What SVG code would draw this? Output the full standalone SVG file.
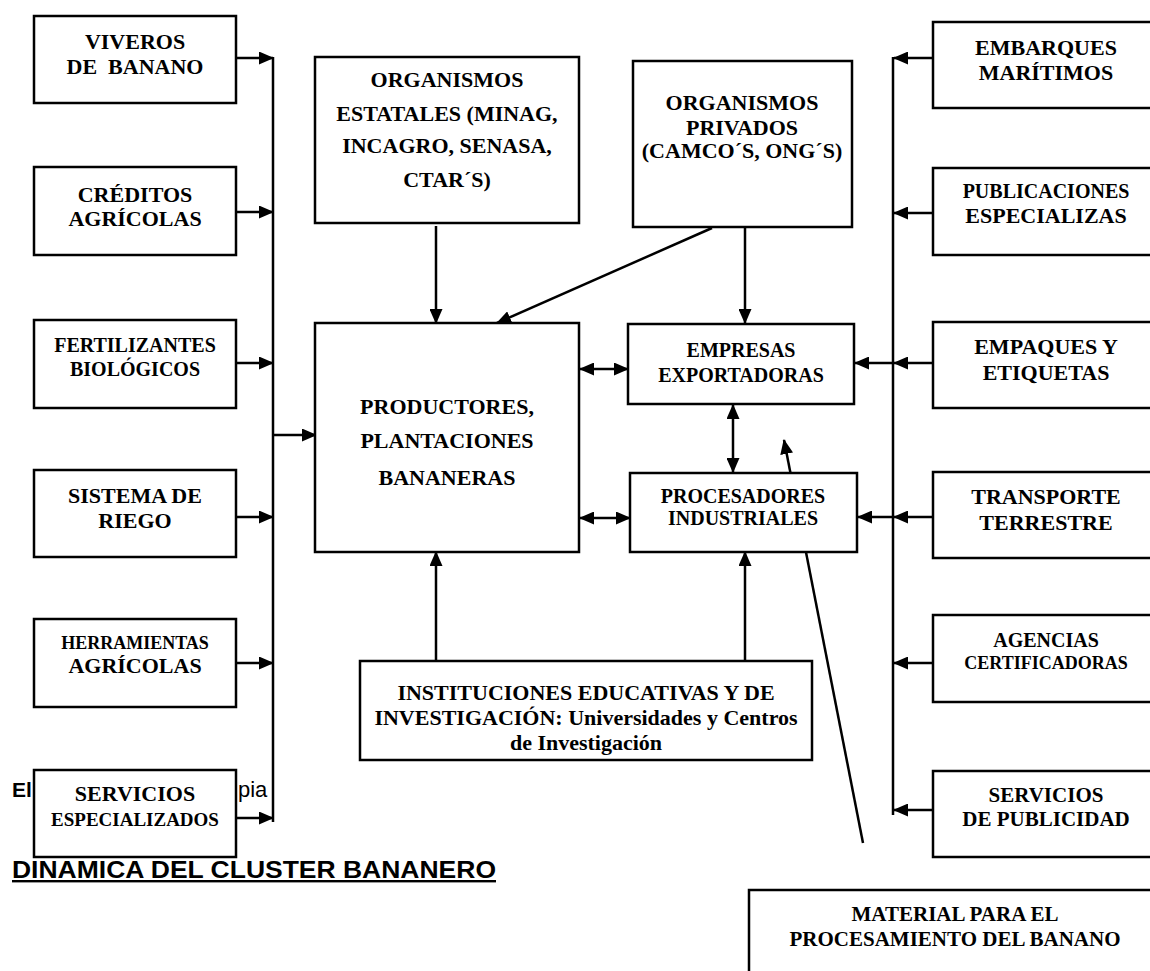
<svg xmlns="http://www.w3.org/2000/svg" width="1150" height="971" viewBox="0 0 1150 971">
  <style>
    .box { fill: #fff; stroke: #000; stroke-width: 2.5; }
    .lbl { font-family: "Liberation Serif", "Times New Roman", serif; font-weight: bold; text-anchor: middle; fill: #000; }
    .f22 { font-size: 22px; }
    .f21 { font-size: 21px; }
    .f20 { font-size: 20px; }
    .f19 { font-size: 19px; }
    .f18 { font-size: 18px; }
    .con { stroke: #000; stroke-width: 2.5; fill: none; }
    .arr { marker-end: url(#head); }
    .dbl { marker-start: url(#head); marker-end: url(#head); }
    .doc { font-family: "Liberation Sans", Arial, sans-serif; fill: #000; }
  </style>
  <defs>
    <marker id="head" viewBox="0 0 15 13" refX="14" refY="6.5" markerWidth="15" markerHeight="13" markerUnits="userSpaceOnUse" orient="auto-start-reverse">
      <path d="M0,0 L15,6.5 L0,13 z" fill="#000"/>
    </marker>
  </defs>
  <rect width="1150" height="971" fill="#fff"/>

  <!-- document text partly covered by the last supplier box -->
  <g id="caption">
    <text class="doc" x="12" y="797" font-size="21" font-weight="bold">El</text>
    <text class="doc" x="238" y="797" font-size="22">pia</text>
    <text class="doc" x="12" y="878" font-size="24" font-weight="bold" text-decoration="underline" textLength="484" lengthAdjust="spacingAndGlyphs">DINAMICA DEL CLUSTER BANANERO</text>
  </g>

  <!-- connectors -->
  <g id="connectors">
    <!-- left supply bus -->
    <line class="con" x1="273" y1="57" x2="273" y2="822"/>
    <line class="con arr" x1="236" y1="58" x2="273" y2="58"/>
    <line class="con arr" x1="236" y1="212" x2="273" y2="212"/>
    <line class="con arr" x1="236" y1="363" x2="273" y2="363"/>
    <line class="con arr" x1="236" y1="517" x2="273" y2="517"/>
    <line class="con arr" x1="236" y1="663" x2="273" y2="663"/>
    <line class="con arr" x1="236" y1="818" x2="273" y2="818"/>
    <line class="con arr" x1="273" y1="435" x2="316" y2="435"/>

    <!-- right supply bus -->
    <line class="con" x1="893" y1="57" x2="893" y2="815"/>
    <line class="con arr" x1="933" y1="58" x2="894" y2="58"/>
    <line class="con arr" x1="933" y1="213" x2="894" y2="213"/>
    <line class="con arr" x1="933" y1="363" x2="894" y2="363"/>
    <line class="con arr" x1="933" y1="517" x2="894" y2="517"/>
    <line class="con arr" x1="933" y1="663" x2="894" y2="663"/>
    <line class="con arr" x1="933" y1="810" x2="894" y2="810"/>
    <line class="con arr" x1="893" y1="363" x2="855" y2="363"/>
    <line class="con arr" x1="893" y1="517" x2="858" y2="517"/>

    <!-- institutions feeding producers and exporters -->
    <line class="con arr" x1="436" y1="226" x2="436" y2="323"/>
    <line class="con arr" x1="712" y1="228" x2="497" y2="323"/>
    <line class="con arr" x1="745" y1="228" x2="745" y2="323"/>

    <!-- links between core actors -->
    <line class="con dbl" x1="580" y1="369" x2="628" y2="369"/>
    <line class="con dbl" x1="580" y1="518" x2="630" y2="518"/>
    <line class="con dbl" x1="733" y1="405" x2="733" y2="472"/>

    <!-- education and research -->
    <line class="con arr" x1="436" y1="661" x2="436" y2="552"/>
    <line class="con arr" x1="745" y1="661" x2="745" y2="552"/>

    <!-- processing material (runs beneath the processors box) -->
    <line class="con arr" x1="863" y1="843" x2="784" y2="440"/>
  </g>

  <!-- left column -->
  <g id="viveros">
    <rect class="box" x="34" y="16" width="202" height="87"/>
    <text class="lbl f22" x="135" y="49">VIVEROS</text>
    <text class="lbl f22" x="135" y="74" xml:space="preserve">DE  BANANO</text>
  </g>
  <g id="creditos">
    <rect class="box" x="34" y="167" width="202" height="88"/>
    <text class="lbl f22" x="135" y="202">CRÉDITOS</text>
    <text class="lbl f22" x="135" y="226">AGRÍCOLAS</text>
  </g>
  <g id="fertilizantes">
    <rect class="box" x="34" y="320" width="202" height="88"/>
    <text class="lbl f20" x="135" y="352">FERTILIZANTES</text>
    <text class="lbl f20" x="135" y="376">BIOLÓGICOS</text>
  </g>
  <g id="riego">
    <rect class="box" x="34" y="470" width="202" height="87"/>
    <text class="lbl f22" x="135" y="503">SISTEMA DE</text>
    <text class="lbl f22" x="135" y="528">RIEGO</text>
  </g>
  <g id="herramientas">
    <rect class="box" x="34" y="619" width="202" height="88"/>
    <text class="lbl f18" x="135" y="649">HERRAMIENTAS</text>
    <text class="lbl f22" x="135" y="673">AGRÍCOLAS</text>
  </g>
  <g id="servicios-especializados">
    <rect class="box" x="34" y="770" width="202" height="87"/>
    <text class="lbl f22" x="135" y="801">SERVICIOS</text>
    <text class="lbl f19" x="135" y="826">ESPECIALIZADOS</text>
  </g>

  <!-- public and private organisations -->
  <g id="estatales">
    <rect class="box" x="315" y="57" width="264" height="166"/>
    <text class="lbl f22" x="447" y="87">ORGANISMOS</text>
    <text class="lbl f22" x="447" y="121">ESTATALES (MINAG,</text>
    <text class="lbl f22" x="447" y="153">INCAGRO, SENASA,</text>
    <text class="lbl f22" x="447" y="187">CTAR´S)</text>
  </g>
  <g id="privados">
    <rect class="box" x="633" y="61" width="219" height="166"/>
    <text class="lbl f22" x="742" y="110">ORGANISMOS</text>
    <text class="lbl f22" x="742" y="135">PRIVADOS</text>
    <text class="lbl f22" x="742" y="158">(CAMCO´S, ONG´S)</text>
  </g>

  <!-- core actors -->
  <g id="productores">
    <rect class="box" x="315" y="323" width="264" height="229"/>
    <text class="lbl f22" x="447" y="414">PRODUCTORES,</text>
    <text class="lbl f22" x="447" y="448">PLANTACIONES</text>
    <text class="lbl f22" x="447" y="485">BANANERAS</text>
  </g>
  <g id="exportadoras">
    <rect class="box" x="628" y="324" width="226" height="80"/>
    <text class="lbl f20" x="741" y="357">EMPRESAS</text>
    <text class="lbl f20" x="741" y="382">EXPORTADORAS</text>
  </g>
  <g id="procesadores">
    <rect class="box" x="630" y="473" width="227" height="79"/>
    <text class="lbl f20" x="743" y="503">PROCESADORES</text>
    <text class="lbl f20" x="743" y="525">INDUSTRIALES</text>
  </g>
  <g id="instituciones">
    <rect class="box" x="360" y="661" width="452" height="99"/>
    <text class="lbl f22" x="586" y="700">INSTITUCIONES EDUCATIVAS Y DE</text>
    <text class="lbl f22" x="586" y="725">INVESTIGACIÓN: Universidades y Centros</text>
    <text class="lbl f22" x="586" y="750">de Investigación</text>
  </g>

  <!-- right column -->
  <g id="embarques">
    <rect class="box" x="933" y="22" width="220" height="86"/>
    <text class="lbl f22" x="1046" y="55">EMBARQUES</text>
    <text class="lbl f22" x="1046" y="80">MARÍTIMOS</text>
  </g>
  <g id="publicaciones">
    <rect class="box" x="933" y="168" width="220" height="87"/>
    <text class="lbl f20" x="1046" y="198">PUBLICACIONES</text>
    <text class="lbl f22" x="1046" y="223">ESPECIALIZAS</text>
  </g>
  <g id="empaques">
    <rect class="box" x="933" y="322" width="220" height="86"/>
    <text class="lbl f22" x="1046" y="354">EMPAQUES Y</text>
    <text class="lbl f22" x="1046" y="380">ETIQUETAS</text>
  </g>
  <g id="transporte">
    <rect class="box" x="933" y="472" width="220" height="86"/>
    <text class="lbl f22" x="1046" y="504">TRANSPORTE</text>
    <text class="lbl f22" x="1046" y="530">TERRESTRE</text>
  </g>
  <g id="agencias">
    <rect class="box" x="933" y="615" width="220" height="87"/>
    <text class="lbl f20" x="1046" y="647">AGENCIAS</text>
    <text class="lbl f18" x="1046" y="669">CERTIFICADORAS</text>
  </g>
  <g id="publicidad">
    <rect class="box" x="933" y="771" width="220" height="86"/>
    <text class="lbl f21" x="1046" y="802">SERVICIOS</text>
    <text class="lbl f21" x="1046" y="826">DE PUBLICIDAD</text>
  </g>
  <g id="material">
    <rect class="box" x="749" y="890" width="412" height="100"/>
    <text class="lbl f21" x="955" y="921">MATERIAL PARA EL</text>
    <text class="lbl f21" x="955" y="946">PROCESAMIENTO DEL BANANO</text>
  </g>
</svg>
